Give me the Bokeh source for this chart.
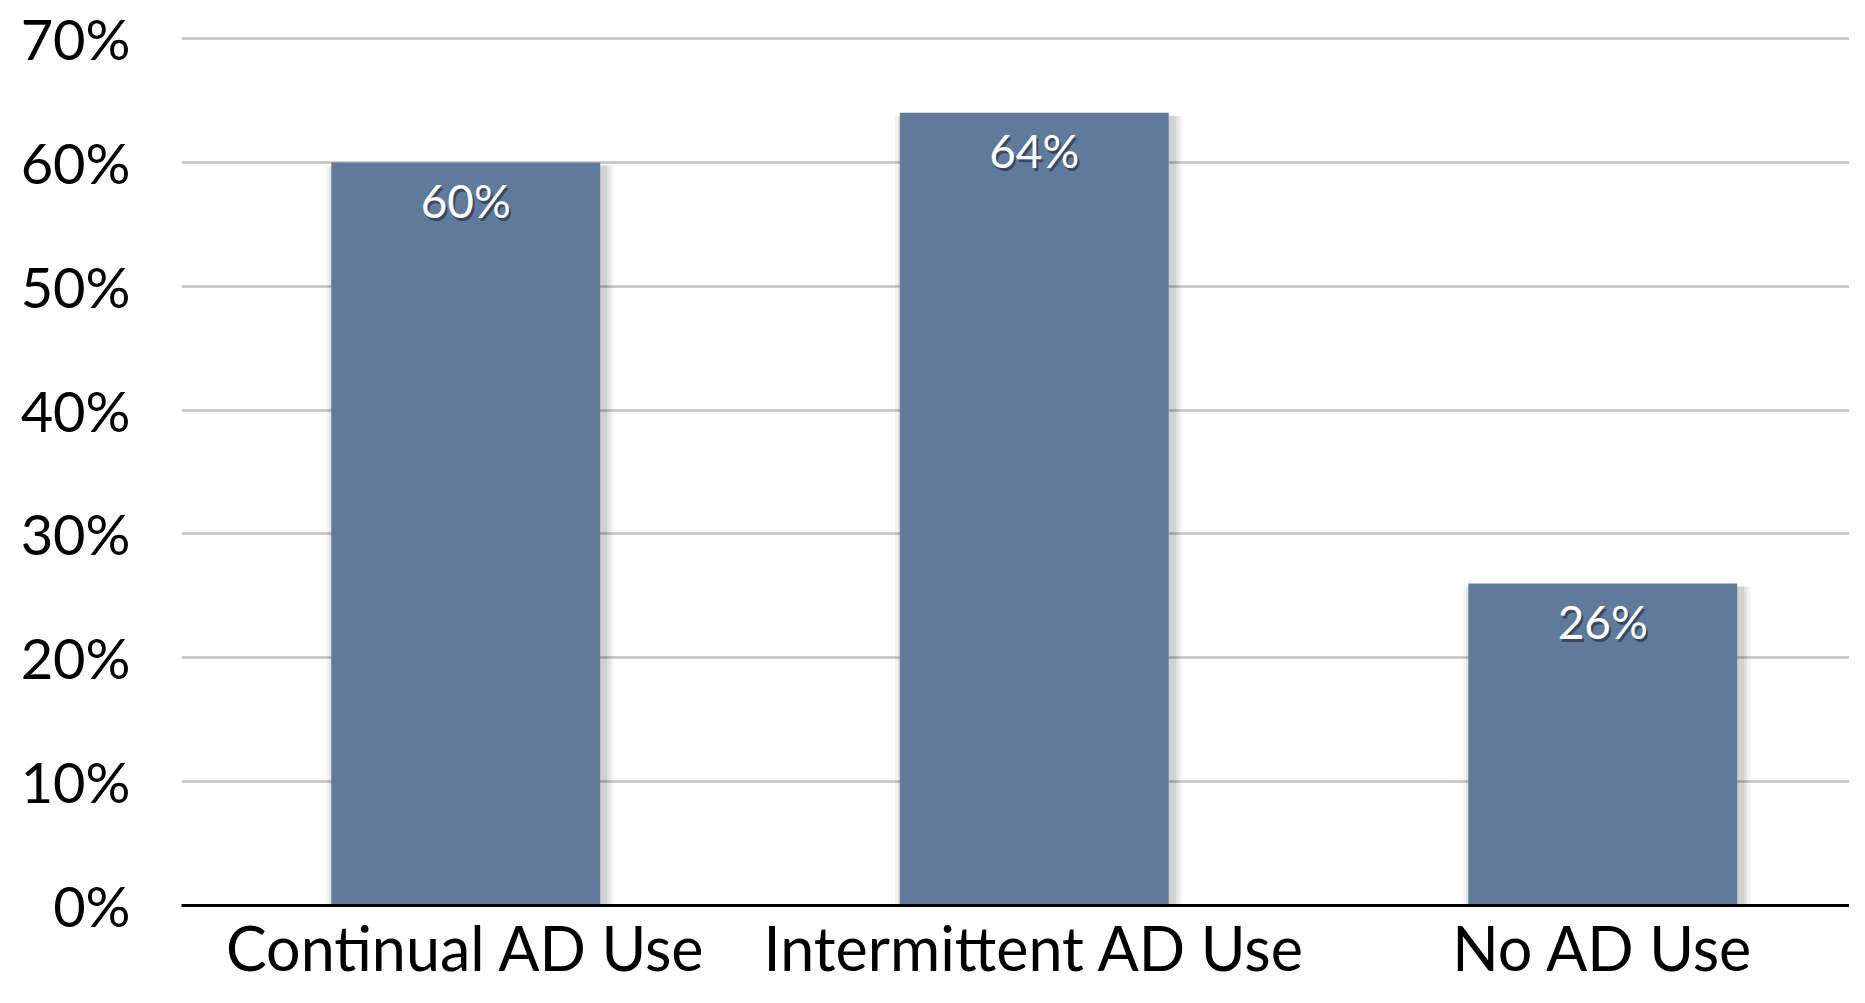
from bokeh.plotting import figure
from bokeh.models import Range1d, FixedTicker, ColumnDataSource
from bokeh.core.properties import value
from bokeh.embed import file_html
from bokeh.resources import INLINE

categories = ["Continual AD Use", "Intermittent AD Use", "No AD Use"]
percentages = [60, 64, 26]
bar_labels = ["60%", "64%", "26%"]
y_ticks = [0, 10, 20, 30, 40, 50, 60, 70]
y_tick_labels = ["0%", "10%", "20%", "30%", "40%", "50%", "60%", "70%"]

FONT = "Lato"
BAR_COLOR = "#5f7a9a"

xs = [i + 0.5 for i in range(len(categories))]
src = ColumnDataSource(dict(x=xs, top=percentages, label=bar_labels))

p = figure(width=1849, height=987, output_backend="svg", toolbar_location=None,
           x_range=Range1d(0, 2.934), y_range=Range1d(0, 73.07),
           min_border_left=181, min_border_right=0, min_border_top=0,
           min_border_bottom=82)
p.outline_line_color = None
p.background_fill_color = "white"
p.border_fill_color = "white"

# soft shadows behind bars
px_x = 1 / 568.6
px_y = 1 / 12.386
for k, a in [(9, 0.05), (6, 0.06), (3, 0.08)]:
    p.vbar(x=[x + 4 * px_x for x in xs], top=[t - 3 * px_y for t in percentages],
           width=0.473 + 2 * k * px_x, bottom=0, fill_color="black", fill_alpha=a,
           line_color=None)

p.vbar(x="x", top="top", width=0.473, bottom=0, source=src,
       fill_color=BAR_COLOR, line_color=None)

# value labels with shadow
p.text(x="x", y="top", text="label", source=src, x_offset=2, y_offset=41,
       text_font=value(FONT), text_font_size="46px", text_color="#1c2a3a",
       text_alpha=0.6, text_align="center", text_baseline="middle")
p.text(x="x", y="top", text="label", source=src, y_offset=38,
       text_font=value(FONT), text_font_size="46px", text_color="white",
       text_align="center", text_baseline="middle")

# grid
p.xgrid.grid_line_color = None
p.ygrid.ticker = FixedTicker(ticks=y_ticks)
p.ygrid.grid_line_color = "#c2c2c2"
p.ygrid.grid_line_width = 2.5

# y axis
p.yaxis.ticker = FixedTicker(ticks=y_ticks)
p.yaxis.major_label_overrides = {t: l for t, l in zip(y_ticks, y_tick_labels)}
p.yaxis.axis_line_color = None
p.yaxis.major_tick_line_color = None
p.yaxis.minor_tick_line_color = None
p.yaxis.major_tick_out = 0
p.yaxis.minor_tick_out = 0
p.yaxis.major_label_standoff = 51
p.yaxis.major_label_text_font = FONT
p.yaxis.major_label_text_font_size = "56px"
p.yaxis.major_label_text_color = "black"

# x axis
p.xaxis.ticker = FixedTicker(ticks=xs)
p.xaxis.major_label_overrides = {x: c for x, c in zip(xs, categories)}
p.xaxis.axis_line_color = "black"
p.xaxis.axis_line_width = 3
p.xaxis.major_tick_line_color = None
p.xaxis.minor_tick_line_color = None
p.xaxis.major_tick_out = 0
p.xaxis.minor_tick_out = 0
p.xaxis.major_label_standoff = 5
p.xaxis.major_label_text_font = FONT
p.xaxis.major_label_text_font_size = "61px"
p.xaxis.major_label_text_color = "black"

open("out.html", "w").write(file_html(p, INLINE))
